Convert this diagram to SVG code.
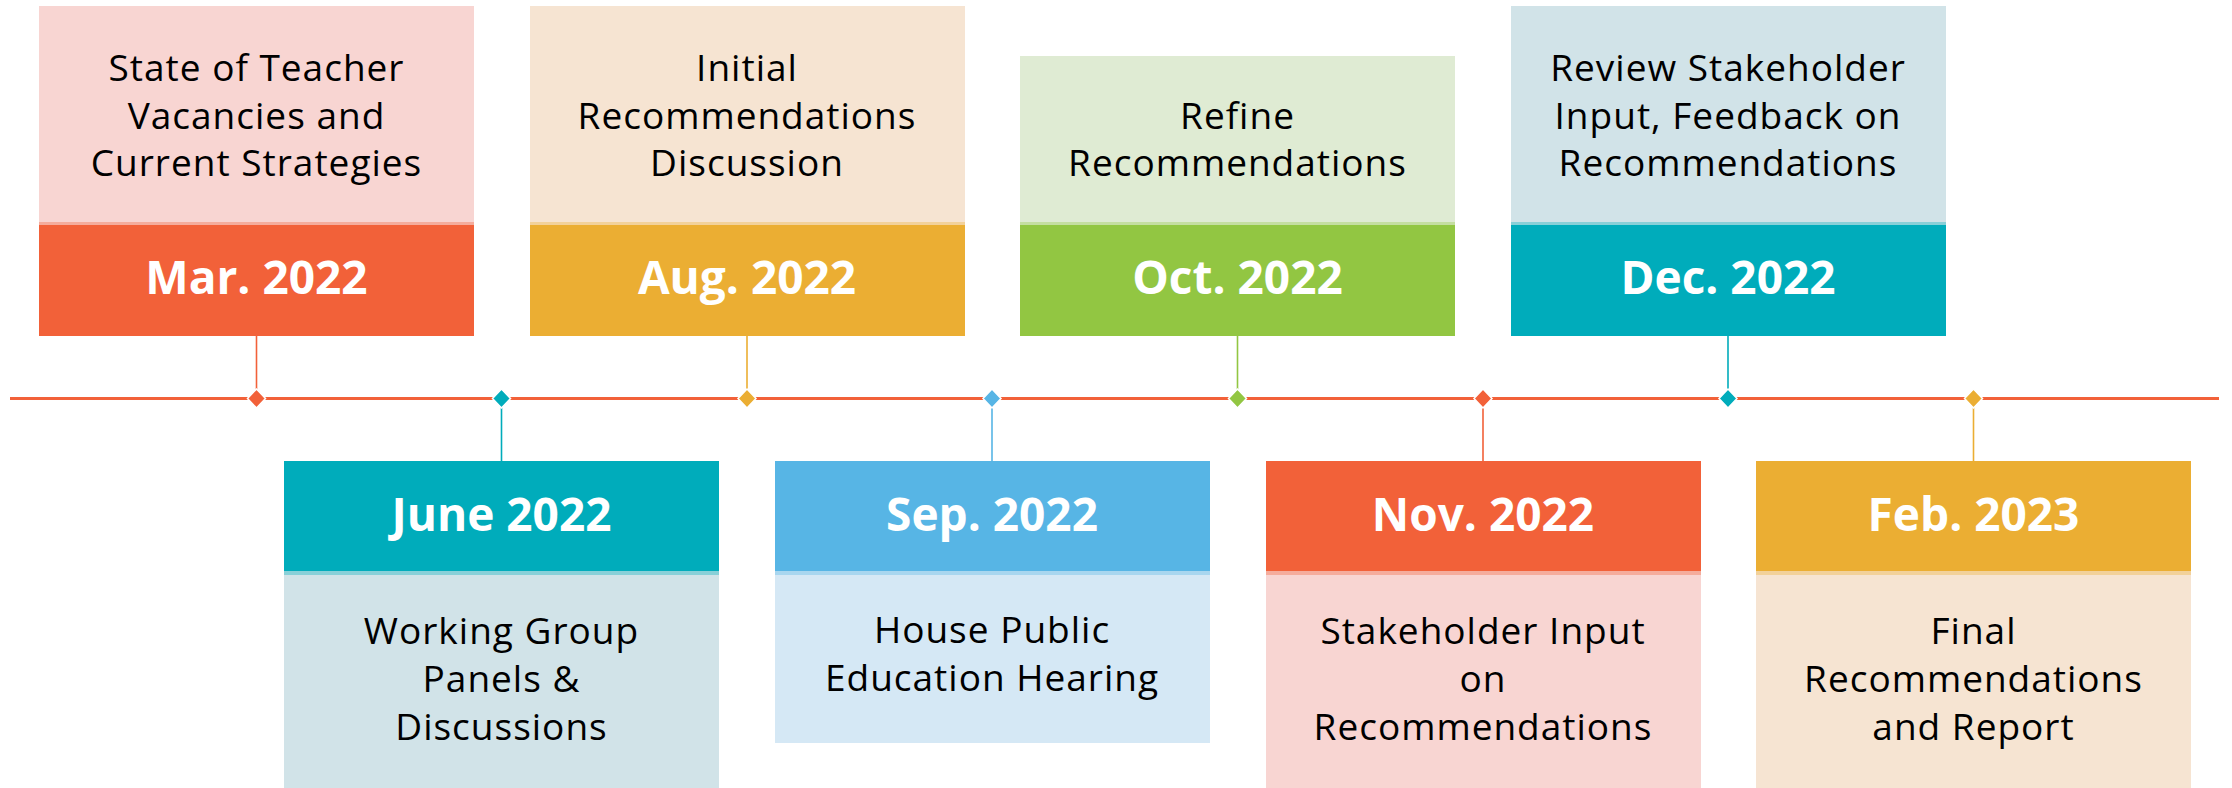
<svg xmlns="http://www.w3.org/2000/svg" width="2232" height="788" viewBox="0 0 2232 788">
<style>
.desc{font-family:"Open Sans","Liberation Sans",sans-serif;font-size:37px;letter-spacing:1px;fill:#000;text-anchor:middle}
.date{font-family:"Open Sans","Liberation Sans",sans-serif;font-size:46px;font-weight:bold;fill:#fff;text-anchor:middle}
.red{fill:#F26139}.redl{fill:#F8D5D2}
.gold{fill:#EBAE33}.goldl{fill:#F6E4D2}
.green{fill:#92C642}.greenl{fill:#DFEBD3}
.teal{fill:#00ACBB}.teall{fill:#D1E3E8}
.blue{fill:#57B5E5}.bluel{fill:#D5E8F5}
.shade{opacity:0.35}
.dia{stroke:#fff;stroke-width:1.5}
.conn{stroke-width:1.6;fill:none}
</style>
<rect width="2232" height="788" fill="#fff"/>

<g id="connectors">
  <line class="conn" x1="256.5" y1="336" x2="256.5" y2="398" stroke="#F26139"/>
  <line class="conn" x1="747" y1="336" x2="747" y2="398" stroke="#EBAE33"/>
  <line class="conn" x1="1237.5" y1="336" x2="1237.5" y2="398" stroke="#92C642"/>
  <line class="conn" x1="1728" y1="336" x2="1728" y2="398" stroke="#00ACBB"/>
  <line class="conn" x1="501.5" y1="398" x2="501.5" y2="461" stroke="#00ACBB"/>
  <line class="conn" x1="992" y1="398" x2="992" y2="461" stroke="#57B5E5"/>
  <line class="conn" x1="1483" y1="398" x2="1483" y2="461" stroke="#F26139"/>
  <line class="conn" x1="1973.5" y1="398" x2="1973.5" y2="461" stroke="#EBAE33"/>
</g>

<g id="timeline">
  <line x1="10" y1="398.5" x2="2219" y2="398.5" stroke="#F26139" stroke-width="3"/>
  <polygon class="dia red" points="256.5,389 265.5,398.5 256.5,408 247.5,398.5"/>
  <polygon class="dia teal" points="501.5,389 510.5,398.5 501.5,408 492.5,398.5"/>
  <polygon class="dia gold" points="747,389 756,398.5 747,408 738,398.5"/>
  <polygon class="dia blue" points="992,389 1001,398.5 992,408 983,398.5"/>
  <polygon class="dia green" points="1237.5,389 1246.5,398.5 1237.5,408 1228.5,398.5"/>
  <polygon class="dia red" points="1483,389 1492,398.5 1483,408 1474,398.5"/>
  <polygon class="dia teal" points="1728,389 1737,398.5 1728,408 1719,398.5"/>
  <polygon class="dia gold" points="1973.5,389 1982.5,398.5 1973.5,408 1964.5,398.5"/>
</g>

<g id="node-mar">
  <rect class="redl" x="39" y="6" width="435" height="220"/>
  <rect class="red" x="39" y="225" width="435" height="111"/>
  <rect class="red shade" x="39" y="222" width="435" height="3"/>
  <text class="desc" x="256.5" y="81">State of Teacher</text>
  <text class="desc" x="256.5" y="128.5">Vacancies and</text>
  <text class="desc" x="256.5" y="176">Current Strategies</text>
  <text class="date" x="256.5" y="294">Mar. 2022</text>
</g>

<g id="node-aug">
  <rect class="goldl" x="530" y="6" width="435" height="220"/>
  <rect class="gold" x="530" y="225" width="435" height="111"/>
  <rect class="gold shade" x="530" y="222" width="435" height="3"/>
  <text class="desc" x="747" y="81">Initial</text>
  <text class="desc" x="747" y="128.5">Recommendations</text>
  <text class="desc" x="747" y="176">Discussion</text>
  <text class="date" x="747" y="294">Aug. 2022</text>
</g>

<g id="node-oct">
  <rect class="greenl" x="1020" y="56" width="435" height="170"/>
  <rect class="green" x="1020" y="225" width="435" height="111"/>
  <rect class="green shade" x="1020" y="222" width="435" height="3"/>
  <text class="desc" x="1237.5" y="128.5">Refine</text>
  <text class="desc" x="1237.5" y="176">Recommendations</text>
  <text class="date" x="1237.5" y="294">Oct. 2022</text>
</g>

<g id="node-dec">
  <rect class="teall" x="1511" y="6" width="435" height="220"/>
  <rect class="teal" x="1511" y="225" width="435" height="111"/>
  <rect class="teal shade" x="1511" y="222" width="435" height="3"/>
  <text class="desc" x="1728" y="81">Review Stakeholder</text>
  <text class="desc" x="1728" y="128.5">Input, Feedback on</text>
  <text class="desc" x="1728" y="176">Recommendations</text>
  <text class="date" x="1728" y="294">Dec. 2022</text>
</g>

<g id="node-june">
  <rect class="teal" x="284" y="461" width="435" height="111"/>
  <rect class="teall" x="284" y="571" width="435" height="217"/>
  <rect class="teal shade" x="284" y="571" width="435" height="4"/>
  <text class="date" x="501.5" y="531">June 2022</text>
  <text class="desc" x="501.5" y="644">Working Group</text>
  <text class="desc" x="501.5" y="692">Panels &amp;</text>
  <text class="desc" x="501.5" y="740">Discussions</text>
</g>

<g id="node-sep">
  <rect class="blue" x="775" y="461" width="435" height="111"/>
  <rect class="bluel" x="775" y="571" width="435" height="172"/>
  <rect class="blue shade" x="775" y="571" width="435" height="4"/>
  <text class="date" x="992" y="531">Sep. 2022</text>
  <text class="desc" x="992" y="643">House Public</text>
  <text class="desc" x="992" y="691">Education Hearing</text>
</g>

<g id="node-nov">
  <rect class="red" x="1266" y="461" width="435" height="111"/>
  <rect class="redl" x="1266" y="571" width="435" height="217"/>
  <rect class="red shade" x="1266" y="571" width="435" height="4"/>
  <text class="date" x="1483" y="531">Nov. 2022</text>
  <text class="desc" x="1483" y="644">Stakeholder Input</text>
  <text class="desc" x="1483" y="692">on</text>
  <text class="desc" x="1483" y="740">Recommendations</text>
</g>

<g id="node-feb">
  <rect class="gold" x="1756" y="461" width="435" height="111"/>
  <rect class="goldl" x="1756" y="571" width="435" height="217"/>
  <rect class="gold shade" x="1756" y="571" width="435" height="4"/>
  <text class="date" x="1973.5" y="531">Feb. 2023</text>
  <text class="desc" x="1973.5" y="644">Final</text>
  <text class="desc" x="1973.5" y="692">Recommendations</text>
  <text class="desc" x="1973.5" y="740">and Report</text>
</g>
</svg>
